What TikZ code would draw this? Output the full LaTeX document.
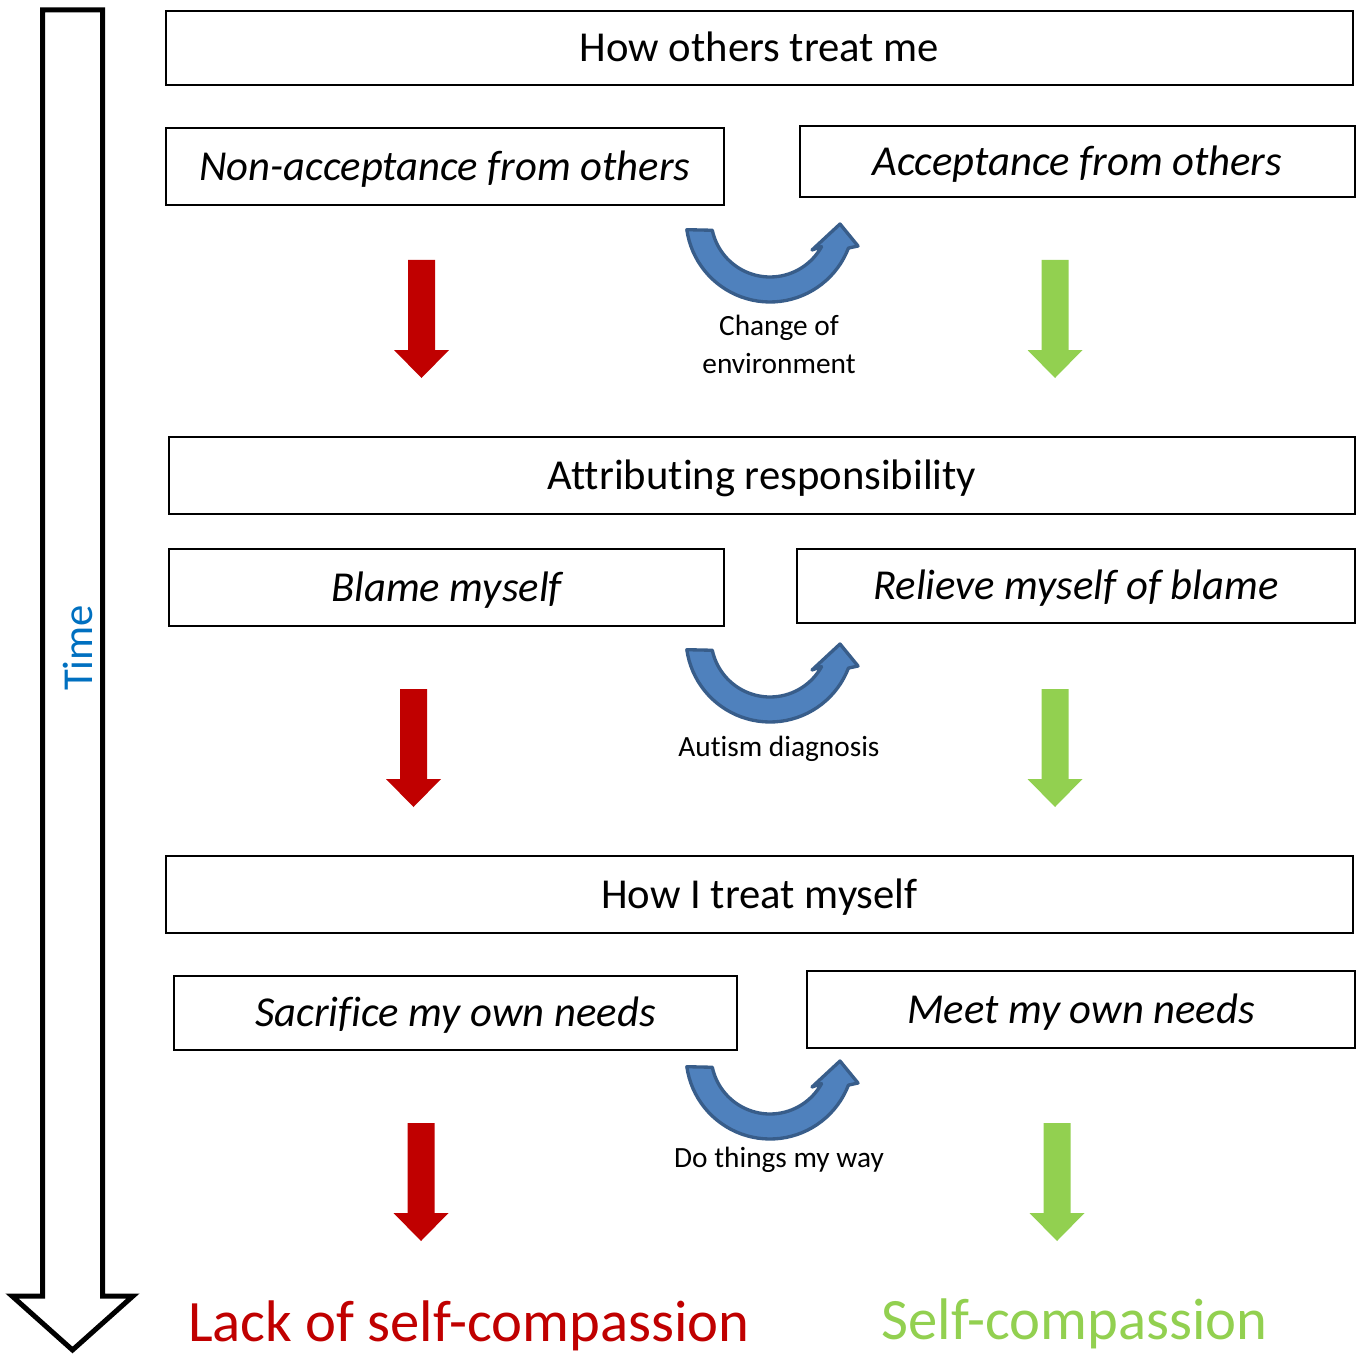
\documentclass[tikz,border=0pt]{standalone}
\usepackage{fontspec}
\setmainfont{Carlito}[Ligatures=NoCommon]
\usetikzlibrary{positioning}

\definecolor{negred}{HTML}{C00000}
\definecolor{posgreen}{HTML}{92D050}
\definecolor{turnblue}{HTML}{4F81BD}
\definecolor{turnedge}{HTML}{385D8A}
\definecolor{timeblue}{HTML}{0070C0}

\tikzset{
  box/.style = {draw, line width=1.5pt, inner sep=0pt, minimum height=57.75pt,
                text height=20.5pt, text depth=0pt,
                font=\fontsize{32}{38}\selectfont},
  choice/.style = {box, font=\fontsize{32}{38}\selectfont\itshape},
  turnlabel/.style = {align=center, inner sep=0pt, font=\fontsize{22}{28.5}\selectfont},
  outcome/.style = {inner sep=0pt, font=\fontsize{44}{52}\selectfont},
  % straight block arrow pointing down, top edge at the pic origin
  pics/downarr/.style = {code={
    \fill (-13.5,0) -- (13.5,0) -- (13.5,90) -- (27.5,90) -- (0,118)
          -- (-27.5,90) -- (-13.5,90) -- cycle;
  }},
  % curved arrow swinging from left to right, origin at the arc centre
  pics/turnarrow/.style = {code={
    \filldraw[fill=turnblue, draw=turnedge, line width=2.5pt, line join=round]
      plot[domain=172:21, samples=40] ({84*cos(\x)}, {84*sin(\x)})
      -- (88,28) -- (70,6) -- (42,32)
      -- plot[domain=29:168, samples=40] ({59*cos(\x)}, {59*sin(\x)})
      -- cycle;
  }}
}

\begin{document}
\begin{tikzpicture}[x=0.75pt, y=-0.75pt]
\useasboundingbox (0,0) rectangle (1360,1355);

% time axis
\draw[line width=3.75pt] (42.5,1296) -- (42.5,10) -- (102.5,10) -- (102.5,1296)
  -- (133,1296) -- (72.5,1350) -- (12,1296) -- cycle;
\node[rotate=90, text=timeblue, font=\fontsize{32}{38}\selectfont] (time) at (78,648) {Time};

% how others treat me
\node[box, minimum width=890pt, minimum height=55.5pt] (treatOthers) at (759.5,48) {How others treat me};
\node[choice, minimum width=418.5pt] (nonAccept) at (445,166.5) {Non-acceptance from others};
\node[choice, minimum width=416pt, minimum height=53.25pt] (accept) at (1077.5,161.5) {Acceptance from others};

\pic[negred] at (421.5,260) {downarr};
\pic[posgreen] at (1055,260) {downarr};
\pic at (770,218) {turnarrow};
\node[turnlabel] (envLabel) at (779,344) {Change of\\environment};

% attributing responsibility
\node[box, minimum width=889.5pt] (attrib) at (762,475.5) {Attributing responsibility};
\node[choice, minimum width=416pt] (blame) at (446.5,587.5) {Blame myself};
\node[choice, minimum width=418.5pt, minimum height=55.5pt] (relieve) at (1076,586) {Relieve myself of blame};

\pic[negred] at (413.5,689) {downarr};
\pic[posgreen] at (1055,689) {downarr};
\pic at (770,638) {turnarrow};
\node[turnlabel] (diagLabel) at (779,748.5) {Autism diagnosis};

% how I treat myself
\node[box, minimum width=890pt] (treatSelf) at (759.5,894.5) {How I treat myself};
\node[choice, minimum width=422pt, minimum height=55.5pt] (sacrifice) at (455.5,1013) {Sacrifice my own needs};
\node[choice, minimum width=411pt] (meet) at (1081,1009.5) {Meet my own needs};

\pic[negred] at (421,1123) {downarr};
\pic[posgreen] at (1057,1123) {downarr};
\pic at (770,1055) {turnarrow};
\node[turnlabel] (wayLabel) at (779,1159.5) {Do things my way};

% outcomes
\node[outcome, text=negred] (lackSC) at (469,1326) {Lack of self-compassion};
\node[outcome, text=posgreen] (selfSC) at (1074.5,1324) {Self-compassion};
\end{tikzpicture}
\end{document}
